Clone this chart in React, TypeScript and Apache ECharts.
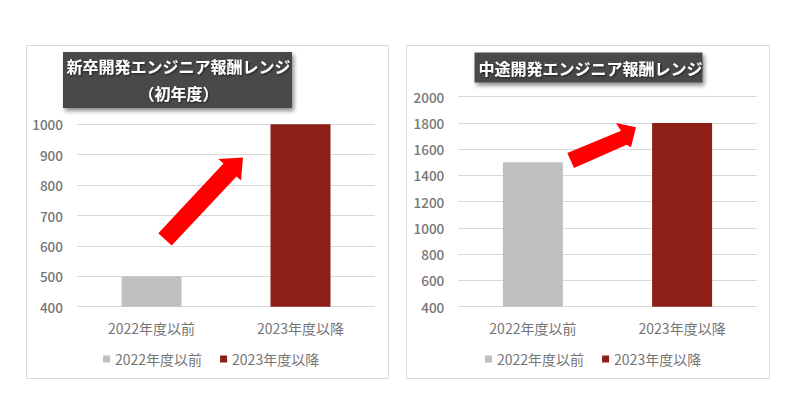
import React, { useEffect, useRef } from "react";
import * as echarts from "echarts";

const categories = ["2022年度以前", "2023年度以降"];
const newGradValues = [500, 1000];
const midCareerValues = [1500, 1800];
const newGradAxis = { min: 400, max: 1000, interval: 100 };
const midCareerAxis = { min: 400, max: 2000, interval: 200 };
const barColors = ["#c0c0c0", "#8d1f17"];
const titles = ["新卒開発エンジニア報酬レンジ", "（初年度）", "中途開発エンジニア報酬レンジ"];

const FONT = "'Noto Sans CJK JP', 'Noto Sans', sans-serif";
const GRAY = "#757575";

function arrow(points: number[][]) {
  return {
    type: "polygon",
    z: 20,
    shape: { points },
    style: { fill: "#ff0000" },
  };
}

export default function App() {
  const ref = useRef<HTMLDivElement>(null);
  useEffect(() => {
    if (!ref.current) return;
    const chart = echarts.init(ref.current, undefined, { renderer: "svg" });
    const valueSets = [newGradValues, midCareerValues];
    const axes = [newGradAxis, midCareerAxis];
    const series: any[] = [];
    valueSets.forEach((vals, i) => {
      categories.forEach((name, j) => {
        series.push({
          type: "bar",
          name,
          xAxisIndex: i,
          yAxisIndex: i,
          stack: "s" + i,
          barWidth: 60,
          data: vals.map((v, k) => (k === j ? v : "-")),
          itemStyle: { color: barColors[j] },
        });
      });
    });
    const legendBase = {
      data: categories,
      top: 352,
      padding: 0,
      itemWidth: 7,
      itemHeight: 7,
      itemGap: 18,
      icon: "rect",
      selectedMode: false,
      textStyle: { color: GRAY, fontSize: 14, fontFamily: FONT },
    };
    const titleText = (text: string, x: number, y: number) => ({
      type: "text",
      z: 31,
      x,
      y,
      style: {
        text,
        fill: "#ffffff",
        font: `bold 16px ${FONT}`,
        align: "center",
        verticalAlign: "middle",
        textShadowColor: "rgba(0,0,0,0.6)",
        textShadowBlur: 2,
        textShadowOffsetX: 1,
        textShadowOffsetY: 1,
      },
    });
    const titleBox = (x: number, y: number, w: number, h: number) => ({
      type: "rect",
      z: 30,
      shape: { x, y, width: w, height: h },
      style: {
        fill: "#4a4a4a",
        shadowColor: "rgba(0,0,0,0.45)",
        shadowBlur: 4,
        shadowOffsetX: 2,
        shadowOffsetY: 3,
      },
    });
    chart.setOption({
      animation: false,
      grid: [
        { left: 77, right: 425, top: 124.3, bottom: 112.3 },
        { left: 458.3, right: 43.3, top: 96.7, bottom: 112.3 },
      ],
      xAxis: [0, 1].map((i) => ({
        type: "category",
        gridIndex: i,
        data: categories,
        axisLine: { show: false },
        axisTick: { show: false },
        axisLabel: { color: GRAY, fontSize: 14, fontFamily: FONT, margin: 14 },
      })),
      yAxis: axes.map((a, i) => ({
        type: "value",
        gridIndex: i,
        min: a.min,
        max: a.max,
        interval: a.interval,
        axisLine: { show: false },
        axisTick: { show: false },
        splitLine: { lineStyle: { color: "#d9d9d9", width: 1 } },
        axisLabel: {
          color: GRAY,
          fontSize: 13.5,
          fontWeight: 500,
          fontFamily: FONT,
          margin: 14,
          formatter: (v: number) => String(v),
        },
      })),
      legend: [
        { ...legendBase, left: 103 },
        { ...legendBase, left: 485 },
      ],
      series,
      graphic: [
        {
          type: "rect",
          z: 0,
          shape: { x: 26.5, y: 45.5, width: 362, height: 333 },
          style: { fill: "none", stroke: "#d9d9d9", lineWidth: 1 },
        },
        {
          type: "rect",
          z: 0,
          shape: { x: 406.5, y: 45.5, width: 363, height: 333 },
          style: { fill: "none", stroke: "#d9d9d9", lineWidth: 1 },
        },
        titleBox(63, 52, 229, 56),
        titleText(titles[0], 178.5, 65.5),
        titleText(titles[1], 178.5, 93),
        titleBox(474.5, 52.5, 228, 30),
        titleText(titles[2], 590.5, 67.5),
        arrow([
          [158.3, 233.3],
          [223.5, 163.5],
          [218.3, 159],
          [243, 157.5],
          [241, 180.5],
          [236.5, 176.5],
          [171.7, 245.5],
        ]),
        arrow([
          [567.3, 153],
          [621, 130.7],
          [616, 123],
          [636, 127.3],
          [631, 147.3],
          [626.7, 144.7],
          [574, 168],
        ]),
      ],
    });
    return () => chart.dispose();
  }, []);
  return (
    <div
      ref={ref}
      style={{ position: "fixed", left: 0, top: 0, width: 800, height: 419, background: "#fff" }}
    />
  );
}
